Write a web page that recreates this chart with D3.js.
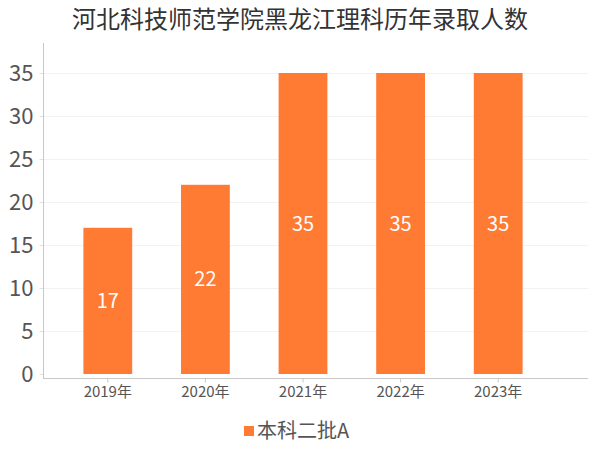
<!DOCTYPE html>
<html>
<head>
<meta charset="utf-8">
<script src="https://cdn.jsdelivr.net/npm/d3@7"></script>
<style>
  body { margin: 0; background: #fff; }
  text { font-family: "Noto Sans CJK SC", "Noto Sans", sans-serif; }
</style>
</head>
<body>
<svg id="chart"></svg>
<script>
var years = ["2019年", "2020年", "2021年", "2022年", "2023年"];
var values = [17, 22, 35, 35, 35];
var yTicks = [0, 5, 10, 15, 20, 25, 30, 35];
var seriesName = "本科二批A";
var title = "河北科技师范学院黑龙江理科历年录取人数";

var dimensions = {
    width: 600,
    height: 450,
    margins: { top: 43, right: 12, bottom: 76, left: 43 }
};
var barColor = "#ff7a33";

var svg = d3.select("#chart")
    .attr("width", dimensions.width)
    .attr("height", dimensions.height);

// Scales
var xScale = d3.scaleBand()
    .domain(years)
    .range([59, 547])
    .paddingInner(0.5)
    .paddingOuter(0.25);

var yScale = d3.scaleLinear()
    .domain([0, 35])
    .range([374, 73]);

// Title
svg.append("text")
    .attr("x", 300)
    .attr("y", 28)
    .attr("text-anchor", "middle")
    .style("font-size", "24px")
    .style("fill", "#333")
    .text(title);

// Gridlines
svg.append("g")
    .selectAll("line")
    .data(yTicks.slice(1))
    .enter()
    .append("line")
    .attr("x1", 44)
    .attr("x2", 588)
    .attr("y1", d => yScale(d) + 0.5)
    .attr("y2", d => yScale(d) + 0.5)
    .attr("stroke", "#f2f2f2");

// Y axis
var yAxis = svg.append("g")
    .attr("transform", "translate(43.5,0)")
    .call(d3.axisLeft(yScale).tickValues(yTicks).tickSize(4).tickPadding(6));
yAxis.select(".domain").remove();
yAxis.append("line")
    .attr("x1", 0).attr("x2", 0)
    .attr("y1", 43).attr("y2", 378)
    .attr("stroke", "#c8c8c8");
yAxis.selectAll(".tick line").attr("stroke", "#e0e0e0");
yAxis.selectAll("text")
    .style("font-size", "22px")
    .style("fill", "#555")
    .style("font-family", "'Noto Sans CJK SC', sans-serif");

// X axis
var xAxis = svg.append("g")
    .attr("transform", "translate(0,378.5)")
    .call(d3.axisBottom(xScale).tickSize(4).tickSizeOuter(0).tickPadding(4));
xAxis.select(".domain").remove();
xAxis.append("line")
    .attr("x1", 43).attr("x2", 588)
    .attr("stroke", "#c8c8c8");
xAxis.selectAll(".tick line").attr("stroke", "#c8c8c8");
xAxis.selectAll("text")
    .style("font-size", "15px")
    .style("fill", "#555")
    .style("font-family", "'Noto Sans CJK SC', sans-serif");

// Bars
svg.selectAll("rect.bar")
    .data(values)
    .enter()
    .append("rect")
    .attr("class", "bar")
    .attr("x", (d, i) => xScale(years[i]))
    .attr("y", d => yScale(d))
    .attr("width", xScale.bandwidth())
    .attr("height", d => yScale(0) - yScale(d))
    .attr("fill", barColor);

// Value labels
svg.selectAll("text.label")
    .data(values)
    .enter()
    .append("text")
    .attr("class", "label")
    .attr("x", (d, i) => xScale(years[i]) + xScale.bandwidth() / 2)
    .attr("y", d => (yScale(d) + yScale(0)) / 2)
    .attr("dy", "0.35em")
    .attr("text-anchor", "middle")
    .style("font-size", "20px")
    .style("fill", "#fff")
    .text(d => d);

// Legend
var legend = svg.append("g").attr("transform", "translate(244,426)");
legend.append("rect")
    .attr("x", 0).attr("y", 0)
    .attr("width", 10).attr("height", 10)
    .attr("fill", barColor);
legend.append("text")
    .attr("x", 13)
    .attr("y", 5)
    .attr("dy", "0.35em")
    .style("font-size", "20px")
    .style("fill", "#555")
    .text(seriesName);
</script>
</body>
</html>
